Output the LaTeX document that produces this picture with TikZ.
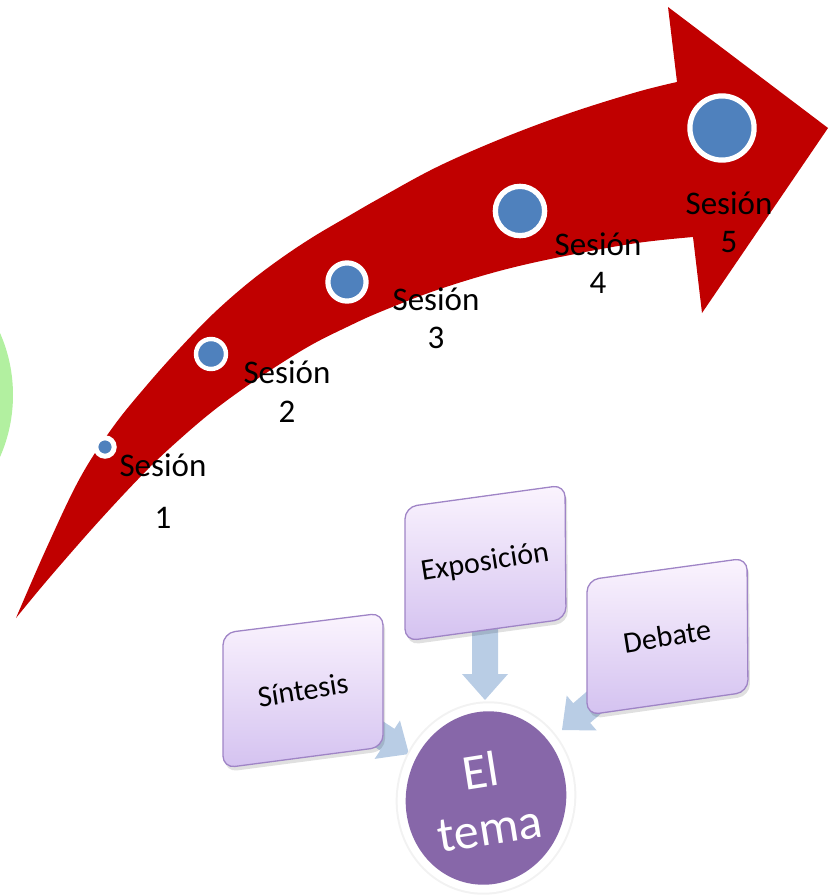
\documentclass[tikz,border=0pt]{standalone}
\usepackage{fontspec}
\setmainfont{Carlito}
\definecolor{arrowred}{HTML}{C00000}
\definecolor{dotblue}{HTML}{4F81BD}
\definecolor{lightgreen}{HTML}{B2F0A0}
\definecolor{paleblue}{HTML}{B9CDE5}
\definecolor{boxtop}{HTML}{FBF4FE}
\definecolor{boxbot}{HTML}{D4C2F0}
\definecolor{boxline}{HTML}{9F84C6}
\definecolor{temapurple}{HTML}{8767A9}
\begin{document}
\begin{tikzpicture}[x=1pt,y=-1pt,
  sesdot/.style={circle, fill=dotblue, draw=white, inner sep=0pt},
  lbl/.style={font=\fontsize{33}{40}\selectfont, inner sep=0pt, anchor=base},
  boxshape/.style={rounded corners=12pt, top color=boxtop, bottom color=boxbot, draw=boxline, line width=1.3pt},
  boxshadow/.style={rounded corners=12pt, fill=black, opacity=0.12},
  boxtext/.style={font=\fontsize{30}{36}\selectfont, inner sep=0pt, rotate=9},
  blockarrow/.pic={\fill[paleblue] (0,0) -- (-26,23) -- (-26,13) -- (-90,13) -- (-90,-13) -- (-26,-13) -- (-26,-23) -- cycle;}
]
\useasboundingbox (0,0) rectangle (828,896);

% green circle at the left edge
\fill[lightgreen] (-141,395) circle [radius=154pt];

% big red curved arrow
\fill[arrowred]
  plot[smooth, tension=0.6] coordinates {(16,618) (47,547) (80,478) (113,427) (147,385) (180,348) (213,314) (247,284) (280,259) (313,237) (347,217) (380,198) (437,167) (503,138) (570,113) (637,92) (677,82)}
  -- (668,7) -- (828,128) -- (702,313)
  -- plot[smooth, tension=0.6] coordinates {(693,237) (637,243) (570,255) (503,270) (437,290) (380,312) (347,327) (313,344) (280,364) (247,386) (213,411) (180,439) (147,470) (100,520) (50,577) (16,618)}
  -- cycle;

% session dots
\node[sesdot, line width=5pt, minimum size=18.4pt] (d1) at (105,447) {};
\node[sesdot, line width=4.4pt, minimum size=30pt] (d2) at (211,354) {};
\node[sesdot, line width=5.2pt, minimum size=38.2pt] (d3) at (347,282) {};
\node[sesdot, line width=5.3pt, minimum size=49.3pt] (d4) at (520,211) {};
\node[sesdot, line width=5.2pt, minimum size=64.2pt] (d5) at (722,128) {};

% session labels
\node[lbl] (s1) at (163,476) {Sesión};
\node[lbl] (n1) at (163,528) {1};
\node[lbl] (s2) at (287,383) {Sesión};
\node[lbl] (n2) at (287,422) {2};
\node[lbl] (s3) at (436,310) {Sesión};
\node[lbl] (n3) at (436,348) {3};
\node[lbl] (s4) at (598,255) {Sesión};
\node[lbl] (n4) at (598,293) {4};
\node[lbl] (s5) at (729,214) {Sesión};
\node[lbl] (n5) at (729,252) {5};

% block arrows toward the theme
\coordinate (tipE) at (485,700);
\coordinate (tipS) at (409,754);
\coordinate (tipD) at (562,730);
\pic[rotate=-90] at (tipE) {blockarrow};
\pic[rotate=-33.4] at (tipS) {blockarrow};
\pic[rotate=-139.3] at (tipD) {blockarrow};

% boxes
\fill[boxshadow] (225,637) -- (385,617) -- (385,751) -- (225,772) -- cycle;
\draw[boxshape] (223,633) -- (383,613) -- (383,747) -- (223,768) -- cycle;
\fill[boxshadow] (407,511) -- (567,489) -- (568,623) -- (407,645) -- cycle;
\draw[boxshape] (405,507) -- (565,485) -- (566,619) -- (405,641) -- cycle;
\fill[boxshadow] (589,584) -- (749,562) -- (750,696) -- (589,719) -- cycle;
\draw[boxshape] (587,580) -- (747,558) -- (748,692) -- (587,715) -- cycle;

\node[boxtext] (sint) at (303,690) {Síntesis};
\node[boxtext] (expo) at (485,563) {Exposición};
\node[boxtext] (deba) at (667,636) {Debate};

% theme circle
\begin{scope}[shift={(486,798)}, rotate=-12]
  \fill[black!5] (0,0) ellipse [x radius=90pt, y radius=97pt];
  \fill[white] (0,0) ellipse [x radius=88pt, y radius=95pt];
  \fill[temapurple] (0,0) ellipse [x radius=80pt, y radius=87pt];
\end{scope}
\node[text=white, font=\fontsize{50}{58}\selectfont, align=center, inner sep=0pt, rotate=9] (tema) at (485,799) {El\\tema};
\end{tikzpicture}
\end{document}
